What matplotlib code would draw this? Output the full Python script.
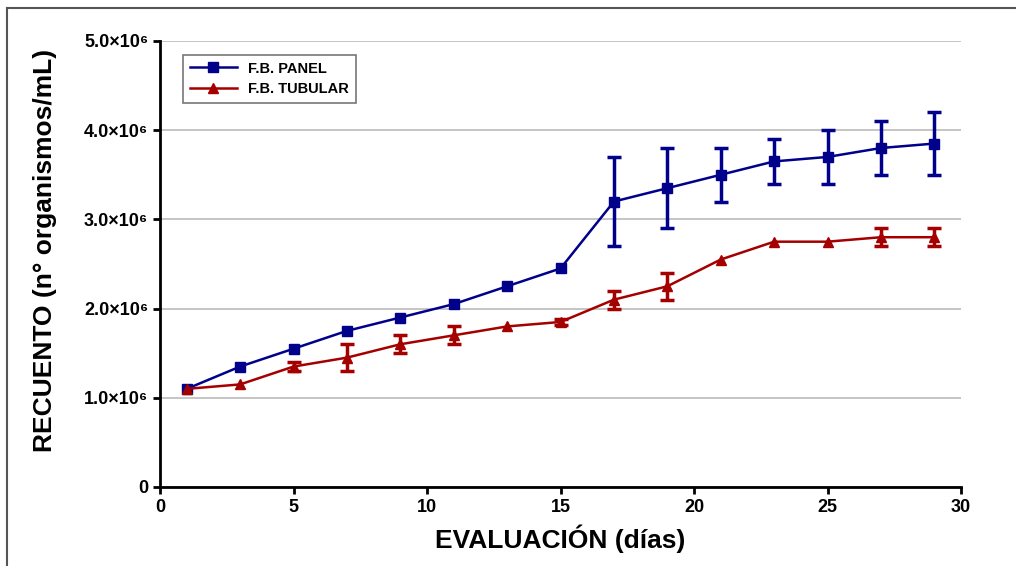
import matplotlib
matplotlib.use("Agg")
import matplotlib.pyplot as plt
from matplotlib.lines import Line2D
import numpy as np

# data (organisms/mL)
days = [1, 3, 5, 7, 9, 11, 13, 15, 17, 19, 21, 23, 25, 27, 29]
panel = [1.10e6, 1.35e6, 1.55e6, 1.75e6, 1.90e6, 2.05e6, 2.25e6, 2.45e6,
         3.20e6, 3.35e6, 3.50e6, 3.65e6, 3.70e6, 3.80e6, 3.85e6]
panel_err = [0, 0, 0, 0, 0, 0, 0, 0,
             0.50e6, 0.45e6, 0.30e6, 0.25e6, 0.30e6, 0.30e6, 0.35e6]
tubular = [1.10e6, 1.15e6, 1.35e6, 1.45e6, 1.60e6, 1.70e6, 1.80e6, 1.85e6,
           2.10e6, 2.25e6, 2.55e6, 2.75e6, 2.75e6, 2.80e6, 2.80e6]
tubular_err = [0, 0, 0.05e6, 0.15e6, 0.10e6, 0.10e6, 0, 0.03e6,
               0.10e6, 0.15e6, 0, 0, 0, 0.10e6, 0.10e6]
y_ticks = [0, 1e6, 2e6, 3e6, 4e6, 5e6]
y_labels = ["0", "1.0×10⁶", "2.0×10⁶", "3.0×10⁶", "4.0×10⁶", "5.0×10⁶"]

BLUE = "#00008B"
RED = "#A50000"
FONT = ["Liberation Sans", "DejaVu Sans"]

plt.rcParams["font.family"] = FONT
plt.rcParams["font.weight"] = "bold"

fig = plt.figure(figsize=(10.16, 5.66), dpi=100)
ax = fig.add_axes([0.1575, 0.1396, 0.7884, 0.788])

# outer frame (top and left edge only, as in the reference)
fig.add_artist(Line2D([0.007, 1.0], [0.986, 0.986], transform=fig.transFigure,
                      color="#555555", linewidth=1.5))
fig.add_artist(Line2D([0.007, 0.007], [0.0, 0.986], transform=fig.transFigure,
                      color="#555555", linewidth=1.5))


def draw_series(y, err, color, marker, label):
    ax.plot(days, y, color=color, marker=marker, markersize=7, linewidth=1.8,
            label=label, zorder=3)
    # only points that actually carry an error bar
    x_e = [d for d, e in zip(days, err) if e > 0]
    y_e = [v for v, e in zip(y, err) if e > 0]
    e_e = [e for e in err if e > 0]
    ax.errorbar(x_e, y_e, yerr=e_e, fmt="none", ecolor=color, elinewidth=2.5,
                capsize=5, capthick=2.5, zorder=3)


draw_series(panel, panel_err, BLUE, "s", "F.B. PANEL")
draw_series(tubular, tubular_err, RED, "^", "F.B. TUBULAR")

ax.set_xlim(0, 30)
ax.set_ylim(0, 5e6)
ax.set_xticks([0, 5, 10, 15, 20, 25, 30])
ax.set_yticks(y_ticks)
ax.set_yticklabels(y_labels)

ax.grid(axis="y", color="#BBBBBB", linewidth=1.2, zorder=0)
ax.set_axisbelow(True)
for side in ["top", "right"]:
    ax.spines[side].set_visible(False)
for side in ["left", "bottom"]:
    ax.spines[side].set_linewidth(2)
ax.tick_params(axis="both", width=2, length=5, labelsize=13)
for lbl in ax.get_xticklabels() + ax.get_yticklabels():
    lbl.set_fontweight("bold")

ax.set_xlabel("EVALUACIÓN (días)", fontsize=19, fontweight="bold", labelpad=6)
ax.set_ylabel("RECUENTO (n° organismos/mL)", fontsize=19, fontweight="bold")
ax.yaxis.set_label_coords(-0.129, 0.53)

leg = ax.legend(loc="upper left", bbox_to_anchor=(0.02, 0.985), fancybox=False,
                edgecolor="#777777", framealpha=1, handlelength=3.2,
                borderpad=0.45, labelspacing=0.45,
                prop={"family": FONT, "weight": "bold", "size": 10.5})
leg.get_frame().set_linewidth(1.2)

fig.savefig("out.png", dpi=100)
